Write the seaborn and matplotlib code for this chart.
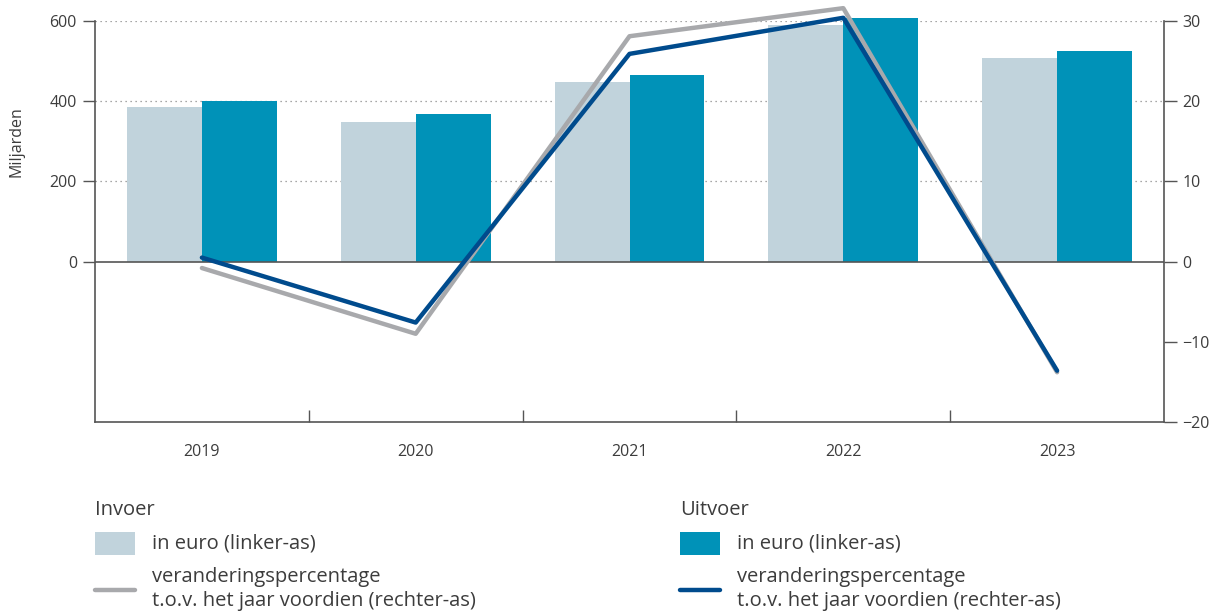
import numpy as np
import pandas as pd
import matplotlib
matplotlib.use('Agg')
import matplotlib.pyplot as plt
import seaborn as sns
from matplotlib.patches import Rectangle
from matplotlib.lines import Line2D

# data
years = ['2019', '2020', '2021', '2022', '2023']
invoer_eur = [385, 349, 448, 590, 508]
uitvoer_eur = [401, 368, 466, 607, 525]
invoer_pct = [-0.8, -9.0, 28.1, 31.6, -13.8]
uitvoer_pct = [0.5, -7.6, 25.9, 30.4, -13.6]

c_inv = '#c1d3dc'
c_uit = '#0092b8'
c_inv_line = '#a8a9ac'
c_uit_line = '#004b8d'
c_text = '#3c3c3c'
c_axis = '#555555'

sns.set_theme(style='white')
plt.rcParams['font.family'] = ['Open Sans', 'DejaVu Sans']

df = pd.DataFrame({
    'jaar': years * 2,
    'waarde': invoer_eur + uitvoer_eur,
    'reeks': ['Invoer'] * len(years) + ['Uitvoer'] * len(years),
})

fig = plt.figure(figsize=(12.14, 6.11), dpi=100)
ax = fig.add_axes([95 / 1214, 1 - 422 / 611, (1164 - 95) / 1214, 401 / 611])

# dotted grid first so bars cover it
for v in [200, 400, 600]:
    ax.axhline(v, color='#8a8a8a', lw=0.9, ls=(0, (1, 3)), zorder=0)

sns.barplot(data=df, x='jaar', y='waarde', hue='reeks', ax=ax,
            palette={'Invoer': c_inv, 'Uitvoer': c_uit},
            width=0.7, linewidth=0, saturation=1, legend=False, zorder=2)
for p in ax.patches:
    p.set_clip_on(False)

ax.axhline(0, color=c_axis, lw=1.2, zorder=3)
ax.set_ylim(-400, 600)
ax.set_xlim(-0.5, len(years) - 0.5)
ax.set_yticks([0, 200, 400, 600])
ax.set_xlabel('')
ax.set_ylabel('Miljarden', color=c_text, fontsize=11.5)
ax.yaxis.set_label_coords(-0.0655, 0.70)

ax.set_xticks(range(len(years)))
ax.set_xticklabels(years)
ax.set_xticks(np.arange(0.5, len(years) - 0.5, 1), minor=True)
ax.tick_params(axis='x', which='major', length=0, pad=16, labelsize=11.5, labelcolor=c_text)
ax.tick_params(axis='x', which='minor', direction='in', length=9, width=1, color=c_axis, bottom=True)
ax.tick_params(axis='y', length=9, width=1, color=c_axis, left=True, labelsize=11.5,
               labelcolor=c_text, pad=4)

for s in ['top', 'right']:
    ax.spines[s].set_visible(False)
for s in ['left', 'bottom']:
    ax.spines[s].set_color(c_axis)
    ax.spines[s].set_linewidth(1.2)

ax2 = ax.twinx()
x_pos = np.arange(len(years))
sns.lineplot(x=x_pos, y=invoer_pct, ax=ax2, color=c_inv_line, lw=3.2, clip_on=False)
sns.lineplot(x=x_pos, y=uitvoer_pct, ax=ax2, color=c_uit_line, lw=3.2, clip_on=False)
ax2.set_ylim(-20, 30)
ax2.set_yticks([-20, -10, 0, 10, 20, 30])
ax2.set_yticklabels(['\u221220', '\u221210', '0', '10', '20', '30'])
ax2.tick_params(axis='y', length=9, width=1, color=c_axis, right=True, labelsize=11.5,
                labelcolor=c_text, pad=4)
ax2.set_xlim(-0.5, len(years) - 0.5)
for s in ['top', 'left', 'bottom']:
    ax2.spines[s].set_visible(False)
ax2.spines['right'].set_color(c_axis)
ax2.spines['right'].set_linewidth(1.2)

# legend below the chart
W, H = 1214, 611
fs = 14.5
for x0, title, fill, line in [(95, 'Invoer', c_inv, c_inv_line), (680, 'Uitvoer', c_uit, c_uit_line)]:
    fig.text(x0 / W, 1 - 510 / H, title, fontsize=fs, color=c_text, va='center', ha='left')
    fig.add_artist(Rectangle((x0 / W, 1 - 555 / H), 40 / W, 23 / H,
                             transform=fig.transFigure, facecolor=fill, edgecolor='none'))
    fig.text((x0 + 57) / W, 1 - 543 / H, 'in euro (linker-as)', fontsize=fs, color=c_text,
             va='center', ha='left')
    fig.add_artist(Line2D([x0 / W, (x0 + 40) / W], [1 - 590 / H, 1 - 590 / H],
                          transform=fig.transFigure, color=line, lw=3.2))
    fig.text((x0 + 57) / W, 1 - 577 / H, 'veranderingspercentage', fontsize=fs, color=c_text,
             va='center', ha='left')
    fig.text((x0 + 57) / W, 1 - 601 / H, 't.o.v. het jaar voordien (rechter-as)', fontsize=fs,
             color=c_text, va='center', ha='left')

fig.savefig('out.png', dpi=100)
